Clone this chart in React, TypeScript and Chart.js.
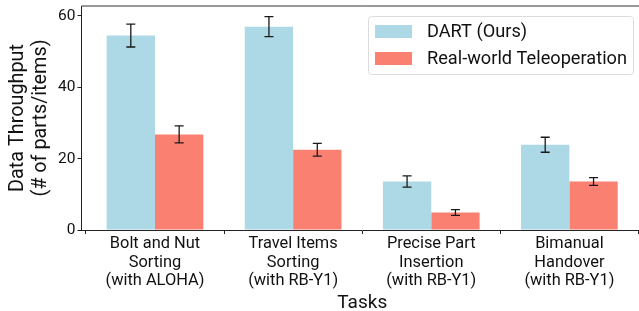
import React, { useEffect, useRef } from "react";
import { Chart, registerables } from "chart.js";

Chart.register(...registerables);

const categories: string[][] = [
  ["Bolt and Nut", "Sorting", "(with ALOHA)"],
  ["Travel Items", "Sorting", "(with RB-Y1)"],
  ["Precise Part", "Insertion", "(with RB-Y1)"],
  ["Bimanual", "Handover", "(with RB-Y1)"],
];
const seriesNames = ["DART (Ours)", "Real-world Teleoperation"];
const dartValues = [54.5, 57.0, 13.6, 23.9];
const dartErrors = [3.2, 2.8, 1.6, 2.1];
const realValues = [26.8, 22.5, 4.9, 13.6];
const realErrors = [2.4, 1.8, 0.8, 1.1];
const yTicks = [0, 20, 40, 60];
const colors = ["#ADD8E6", "#FA8072"];
const FONT = "Roboto";

const errorBarPlugin = {
  id: "errorBars",
  afterDatasetsDraw(chart: any) {
    const ctx = chart.ctx;
    const errs = [dartErrors, realErrors];
    const vals = [dartValues, realValues];
    const yScale = chart.scales.y;
    ctx.save();
    ctx.strokeStyle = "#1a1a1a";
    ctx.lineWidth = 1.3;
    chart.data.datasets.forEach((_ds: any, di: number) => {
      const meta = chart.getDatasetMeta(di);
      meta.data.forEach((bar: any, i: number) => {
        const x = bar.x;
        const top = yScale.getPixelForValue(vals[di][i] + errs[di][i]);
        const bot = yScale.getPixelForValue(vals[di][i] - errs[di][i]);
        ctx.beginPath();
        ctx.moveTo(x, top);
        ctx.lineTo(x, bot);
        ctx.moveTo(x - 4.5, top);
        ctx.lineTo(x + 4.5, top);
        ctx.moveTo(x - 4.5, bot);
        ctx.lineTo(x + 4.5, bot);
        ctx.stroke();
      });
    });
    // top spine
    const a = chart.chartArea;
    ctx.strokeStyle = "#333";
    ctx.lineWidth = 1;
    ctx.beginPath();
    ctx.moveTo(a.left, a.top);
    ctx.lineTo(a.right, a.top);
    ctx.stroke();
    ctx.restore();
  },
};

const legendPlugin = {
  id: "customLegend",
  afterDraw(chart: any) {
    const ctx = chart.ctx;
    ctx.save();
    const bx = 368.5, by = 16.5, bw = 265, bh = 58, r = 3;
    ctx.fillStyle = "rgba(255,255,255,0.8)";
    ctx.strokeStyle = "#dcdcdc";
    ctx.lineWidth = 1;
    ctx.beginPath();
    ctx.moveTo(bx + r, by);
    ctx.lineTo(bx + bw - r, by);
    ctx.arcTo(bx + bw, by, bx + bw, by + r, r);
    ctx.lineTo(bx + bw, by + bh - r);
    ctx.arcTo(bx + bw, by + bh, bx + bw - r, by + bh, r);
    ctx.lineTo(bx + r, by + bh);
    ctx.arcTo(bx, by + bh, bx, by + bh - r, r);
    ctx.lineTo(bx, by + r);
    ctx.arcTo(bx, by, bx + r, by, r);
    ctx.closePath();
    ctx.fill();
    ctx.stroke();
    const rows = [31.5, 58.5];
    ctx.font = `18.2px ${FONT}`;
    ctx.textBaseline = "middle";
    ctx.textAlign = "left";
    seriesNames.forEach((name, i) => {
      ctx.fillStyle = colors[i];
      ctx.fillRect(375, rows[i] - 6.5, 37, 13);
      ctx.fillStyle = "#111";
      ctx.fillText(name, 427, rows[i] + 0.5);
    });
    ctx.restore();
  },
};

export default function App() {
  const ref = useRef<HTMLCanvasElement>(null);
  useEffect(() => {
    document.body.style.margin = "0";
    document.body.style.overflow = "hidden";
    const canvas = ref.current!;
    const chart = new Chart(canvas, {
      type: "bar",
      data: {
        datasets: [
          {
            label: seriesNames[0],
            data: dartValues.map((v, i) => ({ x: i, y: v })),
            backgroundColor: colors[0],
            categoryPercentage: 0.7,
            barPercentage: 1.0,
          },
          {
            label: seriesNames[1],
            data: realValues.map((v, i) => ({ x: i, y: v })),
            backgroundColor: colors[1],
            categoryPercentage: 0.7,
            barPercentage: 1.0,
          },
        ],
      },
      options: {
        animation: false,
        responsive: false,
        devicePixelRatio: 1,
        layout: { padding: { top: 6, left: 0, right: 0, bottom: 0 } },
        plugins: { legend: { display: false }, tooltip: { enabled: false } },
        scales: {
          x: {
            type: "linear",
            min: -0.532,
            max: 3.533,
            offset: false,
            afterBuildTicks: (scale: any) => {
              scale.ticks = categories.map((_c, i) => ({ value: i }));
            },
            afterFit: (scale: any) => {
              scale.height = 81;
              scale.paddingLeft = 0;
              scale.paddingRight = 0;
            },
            ticks: {
              autoSkip: false,
              maxRotation: 0,
              minRotation: 0,
              padding: 1,
              color: "#111",
              font: { family: FONT, size: 16.4, lineHeight: 1.13 },
              callback: (v: any) => categories[Math.round(v)] ?? "",
            },
            grid: { drawOnChartArea: false, drawTicks: true, tickLength: 4, color: "#222", lineWidth: 1 },
            border: { display: true, color: "#222", width: 1 },
            title: {
              display: true,
              text: "Tasks",
              color: "#111",
              font: { family: FONT, size: 19, lineHeight: 0.85 },
              padding: { top: 0, bottom: 0 },
            },
          },
          y: {
            min: 0,
            max: 62.8,
            afterBuildTicks: (scale: any) => {
              scale.ticks = yTicks.map((v) => ({ value: v }));
            },
            afterFit: (scale: any) => {
              scale.width = 81.5;
              scale.paddingTop = 0;
              scale.paddingBottom = 0;
            },
            ticks: {
              padding: 2,
              color: "#111",
              font: { family: FONT, size: 15.5 },
            },
            grid: { drawOnChartArea: false, drawTicks: true, tickLength: 4, color: "#222", lineWidth: 1 },
            border: { display: true, color: "#222", width: 1 },
            title: {
              display: true,
              text: ["Data Throughput", "(# of parts/items)"],
              color: "#111",
              font: { family: FONT, size: 19.8, lineHeight: 1.16 },
              padding: { top: 6.5, bottom: 0 },
            },
          },
        },
      },
      plugins: [errorBarPlugin, legendPlugin],
    } as any);
    return () => chart.destroy();
  }, []);
  return <canvas ref={ref} width={643} height={311} style={{ display: "block" }} />;
}
